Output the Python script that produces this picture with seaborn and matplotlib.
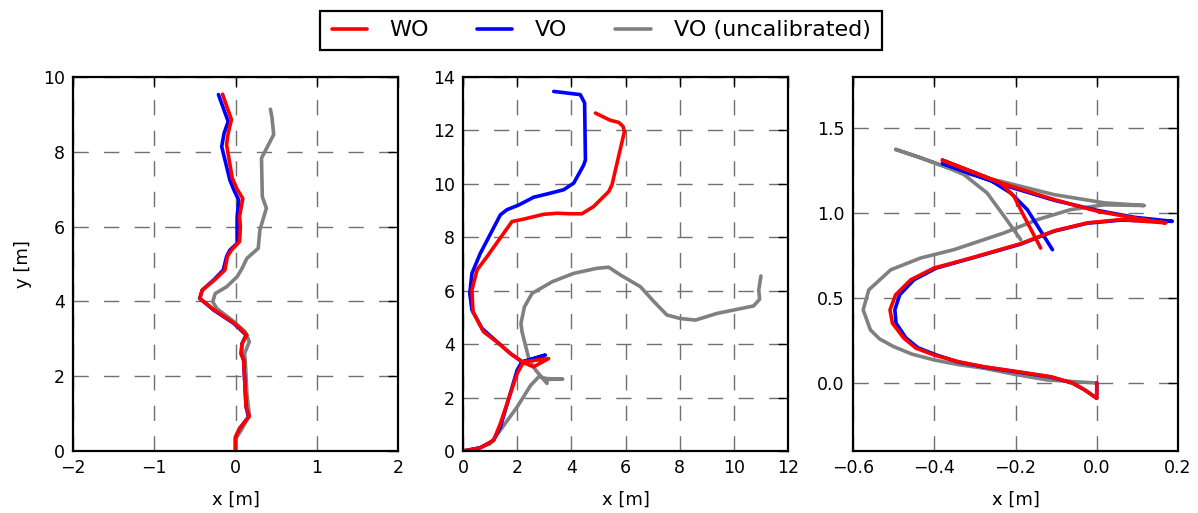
import matplotlib
matplotlib.use("Agg")
import matplotlib.pyplot as plt
import seaborn as sns
from matplotlib.lines import Line2D
from matplotlib.patches import Rectangle

# ---------------- data ----------------
labels = ["WO", "VO", "VO (uncalibrated)"]
colors = {"WO": "#ff0000", "VO": "#0000ff", "VO (uncalibrated)": "#808080"}

# panel 1
p1_wo_x = [0.0, 0.0, 0.05, 0.17, 0.13, 0.1, 0.07, 0.08, 0.14, -0.01, -0.26, -0.44, -0.41, -0.26, -0.13, -0.1, -0.05, 0.05, 0.06, 0.05, 0.09, 0.02, -0.04, -0.11, -0.09, -0.05, -0.16]
p1_wo_y = [0.05, 0.37, 0.6, 0.93, 1.18, 2.43, 2.6, 2.87, 3.1, 3.41, 3.77, 4.08, 4.3, 4.57, 4.84, 5.2, 5.37, 5.6, 6.0, 6.27, 6.75, 7.0, 7.3, 8.19, 8.5, 8.86, 9.54]
p1_vo_x = [0.0, 0.0, 0.05, 0.16, 0.13, 0.1, 0.07, 0.08, 0.13, -0.02, -0.27, -0.44, -0.41, -0.27, -0.15, -0.11, -0.07, 0.02, 0.02, 0.02, 0.04, -0.02, -0.07, -0.17, -0.14, -0.09, -0.21]
p1_vo_y = [0.05, 0.37, 0.6, 0.91, 1.18, 2.43, 2.6, 2.87, 3.1, 3.41, 3.77, 4.08, 4.3, 4.57, 4.84, 5.2, 5.37, 5.55, 6.0, 6.27, 6.71, 6.98, 7.25, 8.14, 8.5, 8.81, 9.53]
p1_un_x = [0.0, 0.0, 0.07, 0.17, 0.14, 0.12, 0.11, 0.17, 0.12, -0.02, -0.23, -0.28, -0.25, -0.11, 0.02, 0.08, 0.14, 0.28, 0.3, 0.38, 0.33, 0.32, 0.47, 0.45, 0.43]
p1_un_y = [0.05, 0.33, 0.55, 0.96, 1.54, 2.43, 2.6, 2.92, 3.19, 3.46, 3.81, 3.99, 4.21, 4.39, 4.66, 4.88, 5.15, 5.42, 5.91, 6.49, 6.8, 7.83, 8.46, 8.9, 9.14]

# panel 2
p2_wo_x = [0.0, 0.64, 1.13, 1.38, 2.0, 2.24, 3.16, 2.6, 2.25, 1.75, 1.32, 0.76, 0.37, 0.33, 0.52, 0.89, 1.5, 1.81, 2.24, 2.97, 3.47, 3.96, 4.39, 4.82, 5.38, 5.5, 5.96, 5.91, 5.75, 5.44, 5.19, 4.89]
p2_wo_y = [0.0, 0.12, 0.4, 1.03, 2.9, 3.34, 3.46, 3.15, 3.3, 3.65, 4.03, 4.46, 5.21, 6.03, 6.78, 7.28, 8.15, 8.59, 8.68, 8.86, 8.9, 8.88, 8.88, 9.15, 9.71, 9.96, 11.96, 12.15, 12.3, 12.38, 12.5, 12.65]
p2_vo_x = [0.0, 0.64, 1.13, 1.38, 2.0, 2.18, 3.04, 2.2, 1.75, 1.32, 0.7, 0.33, 0.25, 0.33, 0.64, 1.38, 1.62, 2.06, 2.61, 3.1, 3.72, 4.09, 4.46, 4.52, 4.49, 4.33, 3.84, 3.35]
p2_vo_y = [0.0, 0.12, 0.4, 0.9, 3.03, 3.34, 3.59, 3.32, 3.65, 4.03, 4.59, 5.28, 5.9, 6.65, 7.4, 8.84, 9.03, 9.21, 9.5, 9.62, 9.78, 10.03, 10.71, 10.9, 13.03, 13.34, 13.4, 13.46]
p2_un_x = [0.0, 0.52, 1.0, 1.38, 2.0, 2.5, 2.8, 3.1, 3.68, 3.1, 3.1, 2.68, 2.43, 2.18, 2.14, 2.27, 2.55, 3.3, 4.09, 4.95, 5.38, 5.81, 6.55, 7.05, 7.53, 8.02, 8.58, 9.38, 10.73, 10.95, 10.92, 11.0]
p2_un_y = [0.0, 0.09, 0.27, 0.78, 1.65, 2.46, 2.78, 2.71, 2.69, 2.68, 2.53, 3.03, 3.46, 4.46, 4.78, 5.4, 5.9, 6.34, 6.65, 6.84, 6.88, 6.59, 6.15, 5.59, 5.09, 4.96, 4.9, 5.15, 5.43, 5.68, 6.03, 6.55]

# panel 3
p3_wo_x = [0.0, 0.0, -0.03, -0.06, -0.113, -0.19, -0.278, -0.34, -0.401, -0.445, -0.475, -0.503, -0.509, -0.495, -0.458, -0.401, -0.31, -0.187, -0.105, -0.023, 0.059, 0.17, 0.092, 0.002, -0.105, -0.237, -0.38, -0.237, -0.204, -0.179, -0.138]
p3_wo_y = [0.0, -0.09, -0.04, 0.0, 0.037, 0.065, 0.096, 0.125, 0.165, 0.205, 0.264, 0.352, 0.43, 0.519, 0.607, 0.676, 0.735, 0.82, 0.895, 0.942, 0.961, 0.942, 0.971, 1.01, 1.079, 1.178, 1.311, 1.178, 1.099, 0.981, 0.794]
p3_vo_x = [0.0, 0.0, -0.03, -0.06, -0.113, -0.19, -0.278, -0.34, -0.395, -0.44, -0.47, -0.494, -0.497, -0.485, -0.45, -0.395, -0.31, -0.187, -0.105, -0.023, 0.059, 0.186, 0.092, 0.002, -0.105, -0.237, -0.38, -0.26, -0.212, -0.171, -0.109]
p3_vo_y = [0.0, -0.09, -0.04, 0.0, 0.035, 0.063, 0.094, 0.123, 0.165, 0.207, 0.266, 0.352, 0.43, 0.519, 0.607, 0.676, 0.733, 0.817, 0.893, 0.94, 0.958, 0.951, 0.975, 1.015, 1.075, 1.17, 1.291, 1.19, 1.118, 1.02, 0.784]
p3_un_x = [0.0, -0.05, -0.121, -0.2, -0.278, -0.34, -0.401, -0.455, -0.5, -0.535, -0.557, -0.575, -0.561, -0.507, -0.434, -0.352, -0.278, -0.228, -0.146, -0.064, 0.018, 0.117, 0.018, -0.105, -0.237, -0.327, -0.434, -0.495, -0.434, -0.36, -0.327, -0.27, -0.228, -0.187]
p3_un_y = [0.0, 0.007, 0.018, 0.05, 0.087, 0.108, 0.136, 0.17, 0.214, 0.26, 0.312, 0.43, 0.548, 0.666, 0.735, 0.784, 0.843, 0.883, 0.961, 1.02, 1.048, 1.044, 1.06, 1.108, 1.187, 1.235, 1.325, 1.374, 1.325, 1.26, 1.226, 1.118, 0.981, 0.843]

panels = [
    {"WO": (p1_wo_x, p1_wo_y), "VO": (p1_vo_x, p1_vo_y), "VO (uncalibrated)": (p1_un_x, p1_un_y)},
    {"WO": (p2_wo_x, p2_wo_y), "VO": (p2_vo_x, p2_vo_y), "VO (uncalibrated)": (p2_un_x, p2_un_y)},
    {"WO": (p3_wo_x, p3_wo_y), "VO": (p3_vo_x, p3_vo_y), "VO (uncalibrated)": (p3_un_x, p3_un_y)},
]
xlims = [(-2, 2), (0, 12), (-0.6, 0.2)]
ylims = [(0, 10), (0, 14), (-0.4, 1.8)]
xticks = [[-2, -1, 0, 1, 2], [0, 2, 4, 6, 8, 10, 12], [-0.6, -0.4, -0.2, 0.0, 0.2]]
yticks = [[0, 2, 4, 6, 8, 10], [0, 2, 4, 6, 8, 10, 12, 14], [0.0, 0.5, 1.0, 1.5]]

# ---------------- style ----------------
sns.set_style("white")
plt.rcParams["font.family"] = ["DejaVu Sans"]
plt.rcParams["text.color"] = "black"
plt.rcParams["axes.labelcolor"] = "black"
plt.rcParams["xtick.color"] = "black"
plt.rcParams["ytick.color"] = "black"

W, H = 1198, 513
fig = plt.figure(figsize=(W / 100, H / 100), dpi=100)
lefts = [73 / W, 463 / W, 853 / W]
bottom = (H - 451) / H
height = (451 - 77) / H
width = 325 / W

draw_order = ["VO (uncalibrated)", "VO", "WO"]
for i, data in enumerate(panels):
    ax = fig.add_axes([lefts[i], bottom, width, height])
    for name in draw_order:
        xs, ys = data[name]
        sns.lineplot(x=xs, y=ys, sort=False, estimator=None, color=colors[name],
                     linewidth=2.6, ax=ax, legend=False)
    ax.set_xlim(*xlims[i])
    ax.set_ylim(*ylims[i])
    ax.set_xticks(xticks[i])
    ax.set_yticks(yticks[i])
    ax.grid(True, color="#707070", linewidth=1.0, linestyle=(0, (11, 11)))
    ax.set_axisbelow(True)
    for s in ax.spines.values():
        s.set_visible(True)
        s.set_color("black")
        s.set_linewidth(1.6)
    ax.tick_params(direction="in", top=True, right=True, length=7, width=1.0,
                   labelsize=12.5, pad=6, color="black", labelcolor="black")
    ax.set_xlabel("x [m]", fontsize=13, color="black", labelpad=10)
    if i == 0:
        ax.set_ylabel("y [m]", fontsize=13, color="black", labelpad=8)
    else:
        ax.set_ylabel("")

# legend frame drawn as a figure rectangle, legend content centred inside it
fig.patches.append(Rectangle((320 / W, (H - 50) / H), 562 / W, 39.3 / H,
                             transform=fig.transFigure, fill=True, facecolor="white",
                             edgecolor="black", linewidth=1.6, zorder=5))
handles = [Line2D([0], [0], color=colors[n], linewidth=2.6) for n in labels]
leg = fig.legend(handles, labels, loc="center", bbox_to_anchor=(601 / W, 1 - 30.4 / H),
                 ncol=3, fontsize=16, frameon=False, handlelength=1.58,
                 handletextpad=1.04, columnspacing=2.15, borderaxespad=0, borderpad=0,
                 labelcolor="black")
leg.set_zorder(6)

fig.savefig("out.png", dpi=100)
